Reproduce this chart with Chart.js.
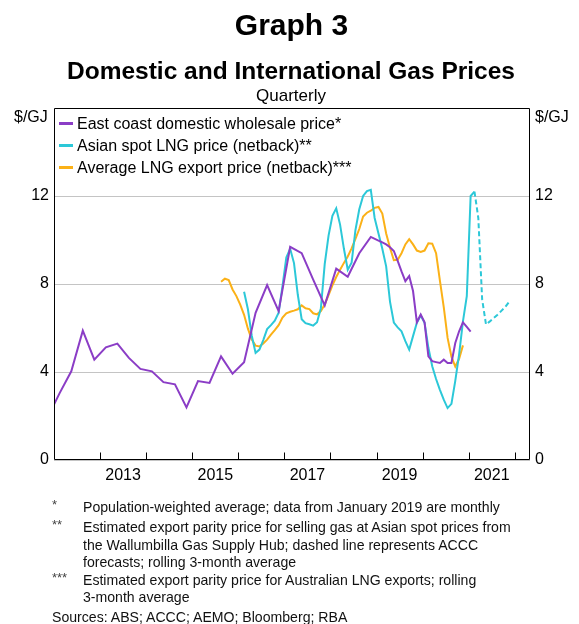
<!DOCTYPE html>
<html><head><meta charset="utf-8">
<script src="https://cdn.jsdelivr.net/npm/chart.js@4.4.1/dist/chart.umd.min.js"></script>
<style>
html,body{margin:0;padding:0;background:#fff;}
body{width:579px;height:624px;position:relative;overflow:hidden;font-family:"Liberation Sans",Arial,sans-serif;color:#000;}
#wrap{position:absolute;left:0;top:0;width:579px;height:624px;}
.t{position:absolute;white-space:nowrap;}
.lg{position:absolute;left:59px;white-space:nowrap;font-size:16px;line-height:18px;}
.lg i{display:inline-block;width:14px;height:3px;vertical-align:middle;margin-right:4px;position:relative;top:-1px;}
.fn{position:absolute;white-space:nowrap;font-size:14.1px;line-height:16px;color:#111;}
.ast{position:absolute;left:52px;font-size:13px;color:#444;line-height:14px;}
</style></head><body>
<div id="wrap"><canvas id="c" width="579" height="624"></canvas></div>
<div class="t" style="left:0;width:583px;text-align:center;top:9px;font-size:30px;font-weight:bold;line-height:32px;">Graph 3</div>
<div class="t" style="left:0;width:582px;text-align:center;top:57px;font-size:24.5px;font-weight:bold;line-height:28px;">Domestic and International Gas Prices</div>
<div class="t" style="left:0;width:582px;text-align:center;top:86px;font-size:17px;line-height:20px;">Quarterly</div>
<div class="t" style="left:14px;top:108px;font-size:16px;line-height:18px;">$/GJ</div>
<div class="t" style="left:535px;top:108px;font-size:16px;line-height:18px;">$/GJ</div>
<div class="lg" style="top:115px;"><i style="background:#8B3DC6"></i>East coast domestic wholesale price*</div>
<div class="lg" style="top:137px;"><i style="background:#2CC8D8"></i>Asian spot LNG price (netback)**</div>
<div class="lg" style="top:159px;"><i style="background:#FBB117"></i>Average LNG export price (netback)***</div>

<div class="ast" style="top:498px;">*</div>
<div class="fn" style="left:83px;top:499px;">Population-weighted average; data from January 2019 are monthly</div>
<div class="ast" style="top:518px;">**</div>
<div class="fn" style="left:83px;top:519px;">Estimated export parity price for selling gas at Asian spot prices from</div>
<div class="fn" style="left:83px;top:537px;">the Wallumbilla Gas Supply Hub; dashed line represents ACCC</div>
<div class="fn" style="left:83px;top:554px;">forecasts; rolling 3-month average</div>
<div class="ast" style="top:571px;">***</div>
<div class="fn" style="left:83px;top:572px;">Estimated export parity price for Australian LNG exports; rolling</div>
<div class="fn" style="left:83px;top:589px;">3-month average</div>
<div class="fn" style="left:52px;top:609px;">Sources: ABS; ACCC; AEMO; Bloomberg; RBA</div>

<script>
// ---------- DATA ----------
const domesticQuarters = ['2011Q4','2012Q1','2012Q2','2012Q3','2012Q4','2013Q1','2013Q2','2013Q3','2013Q4',
  '2014Q1','2014Q2','2014Q3','2014Q4','2015Q1','2015Q2','2015Q3','2015Q4','2016Q1','2016Q2','2016Q3','2016Q4',
  '2017Q1','2017Q2','2017Q3','2017Q4','2018Q1','2018Q2','2018Q3','2018Q4'];
const domesticQuarterly = [2.0,3.05,4.03,5.88,4.56,5.12,5.29,4.64,4.14,
  4.03,3.54,3.44,2.39,3.59,3.50,4.71,3.92,4.44,6.69,7.95,6.77,
  9.69,9.40,8.2,7.03,8.70,8.33,9.40,10.14];
const domesticMonthStart = '2019-01';
const domesticMonthly = [9.97,9.89,9.80,9.67,9.50,9.05,8.57,8.13,8.36,7.68,6.26,6.61,
  6.26,4.71,4.49,4.45,4.41,4.56,4.41,4.41,5.32,5.85,6.26,6.05,
  5.83];

const asianStart = '2016-02';
const asianSpot = [7.65,6.85,5.65,4.87,5.02,5.45,5.95,6.13,6.33,6.7,7.9,
  9.2,9.6,8.95,7.5,6.4,6.22,6.17,6.11,6.26,6.9,8.9,10.2,
  11.1,11.44,10.7,9.6,8.65,8.97,10.45,11.4,12.0,12.22,12.28,11.0,
  10.3,9.6,8.8,7.2,6.25,6.03,5.85,5.4,5.02,5.63,6.24,6.57,
  6.24,5.1,4.26,3.68,3.19,2.74,2.36,2.55,3.6,4.8,6.3,7.45,
  12.0,12.2];
const forecastStart = '2021-02';
const asianForecast = [12.2,11.0,7.3,6.16,6.3,6.45,6.6,6.78,6.95,7.18];

const lngStart = '2015-08';
const lngExport = [8.1,8.24,8.18,7.75,7.45,
  7.06,6.6,5.97,5.47,5.2,5.16,5.3,5.47,5.7,5.9,6.13,6.47,
  6.67,6.74,6.79,6.85,7.03,6.9,6.86,6.67,6.62,6.77,7.07,7.5,
  7.94,8.32,8.65,8.96,9.25,9.62,10.05,10.5,11.07,11.24,11.33,11.46,
  11.5,11.2,10.3,9.65,9.08,9.1,9.4,9.8,10.04,9.8,9.52,9.46,
  9.52,9.85,9.83,9.4,8.15,6.95,5.55,4.7,4.25,4.6,5.21];

const xLabelYears = [2013,2015,2017,2019,2021];
const yearTickMarks = [2013,2014,2015,2016,2017,2018,2019,2020,2021,2022];
const yTicks = [0,4,8,12];

// ---------- helpers ----------
function qx(s){ const y=+s.slice(0,4), q=+s.slice(5); return y+(q-0.5)/4; }
function monthSeries(start, vals){
  let y=+start.slice(0,4), m=+start.slice(5);
  return vals.map((v,i)=>{ const mm=m-1+i; return {x: y+Math.floor(mm/12)+((mm%12)+0.5)/12, y:v}; });
}
const domesticData = domesticQuarters.map((q,i)=>({x:qx(q), y:domesticQuarterly[i]}))
  .concat(monthSeries(domesticMonthStart, domesticMonthly));

const PURPLE='#8B3DC6', CYAN='#2CC8D8', ORANGE='#FBB117';
const FONT='"Liberation Sans", Arial, sans-serif';

const frame = {
  id:'frame',
  afterDatasetsDraw(chart){
    const {ctx, chartArea:a, scales:{x}} = chart;
    ctx.save();
    ctx.strokeStyle='#000'; ctx.lineWidth=1;
    ctx.beginPath();
    const L=Math.round(a.left)+0.5, R=Math.round(a.right)-0.5, T=Math.round(a.top)+0.5, B=Math.round(a.bottom)-0.5;
    ctx.moveTo(L,B); ctx.lineTo(L,T); ctx.lineTo(R,T); ctx.lineTo(R,B); ctx.lineTo(L,B);
    yearTickMarks.forEach(yr=>{ const px=Math.round(x.getPixelForValue(yr))+0.5; ctx.moveTo(px,B); ctx.lineTo(px,B-7); });
    ctx.stroke();
    ctx.restore();
  }
};

const yCommon = {
  type:'linear', min:0, max:16,
  afterBuildTicks(s){ s.ticks = yTicks.map(v=>({value:v})); },
  border:{display:false},
  ticks:{color:'#000', font:{family:FONT,size:16}, padding:5},
};

new Chart(document.getElementById('c'), {
  type:'line',
  data:{datasets:[
    {label:'East coast domestic wholesale price*', data:domesticData, borderColor:PURPLE, borderWidth:2, pointRadius:0, tension:0},
    {label:'Asian spot LNG price (netback)**', data:monthSeries(asianStart, asianSpot), borderColor:CYAN, borderWidth:2, pointRadius:0, tension:0},
    {label:'forecast', data:monthSeries(forecastStart, asianForecast), borderColor:CYAN, borderWidth:2, borderDash:[5,3], pointRadius:0, tension:0},
    {label:'Average LNG export price (netback)***', data:monthSeries(lngStart, lngExport), borderColor:ORANGE, borderWidth:2, pointRadius:0, tension:0}
  ]},
  options:{
    responsive:false, animation:false, devicePixelRatio:1,
    layout:{padding:{top:108,left:0,right:0,bottom:0}},
    plugins:{legend:{display:false}, tooltip:{enabled:false}},
    scales:{
      x:{type:'linear', min:2012, max:2022.33, position:'bottom',
        afterBuildTicks(s){ s.ticks = xLabelYears.map(v=>({value:v+0.5})); },
        afterFit(s){ s.height = 164; },
        grid:{display:false, drawTicks:false}, border:{display:false},
        ticks:{color:'#000', font:{family:FONT,size:16}, padding:6, maxRotation:0, autoSkip:false,
          callback:(v)=>String(Math.floor(v))}},
      y:Object.assign({}, yCommon, {position:'left',
        afterFit(s){ s.width = 54; },
        grid:{color:'#c4c4c4', lineWidth:1, drawTicks:false}}),
      y2:Object.assign({}, yCommon, {position:'right',
        afterFit(s){ s.width = 49; },
        grid:{display:false, drawTicks:false}})
    }
  },
  plugins:[frame]
});
</script>
</body></html>
